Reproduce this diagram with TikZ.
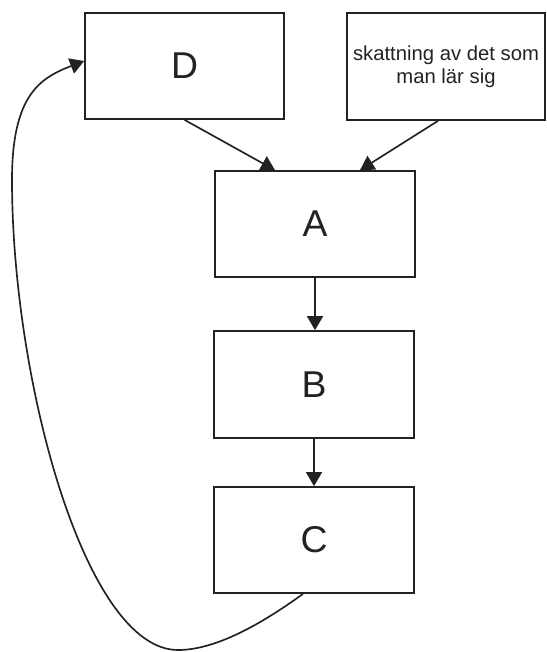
\documentclass[tikz,border=0pt]{standalone}
\usepackage{fontspec}
\setmainfont{Liberation Sans}
\usetikzlibrary{arrows.meta}
\definecolor{linec}{RGB}{34,34,34}
\begin{document}
\begin{tikzpicture}[x=0.75pt,y=-0.75pt,
  box/.style={draw=linec, line width=1.3pt, minimum width=150pt, minimum height=79.5pt, inner sep=0pt, text=linec},
  big/.style={font=\fontsize{28}{33}\selectfont},
  conn/.style={draw=linec, line width=1.25pt, -{Triangle[length=10.5pt,width=12pt]}}]
\useasboundingbox (0,0) rectangle (546,652);
\node[box, big, minimum width=149.25pt] (D) at (184.5,66) {D};
\node[box, minimum width=148.5pt, minimum height=80.25pt, align=center, font=\fontsize{15.2}{17.3}\selectfont] (R) at (446,66.5) {skattning av det som\\man lär sig};
\node[box, big] (A) at (315,224) {A};
\node[box, big, minimum height=80.25pt] (B) at (314,384.5) {B};
\node[box, big] (C) at (314,540) {C};
\draw[conn] (D.south) -- ([xshift=-30pt]A.north);
\draw[conn] ([xshift=-6pt]R.south) -- ([xshift=33.75pt]A.north);
\draw[conn] (A.south) -- (A.south |- B.north);
\draw[conn] (B.south) -- (C.north);
\draw[conn] ([xshift=-8.25pt]C.south) .. controls (260,625) and (215,650) .. (178,650)
  .. controls (85,650) and (12,380) .. (12,180)
  .. controls (12,95) and (40,78) .. ([yshift=3.75pt]D.west);
\end{tikzpicture}
\end{document}
